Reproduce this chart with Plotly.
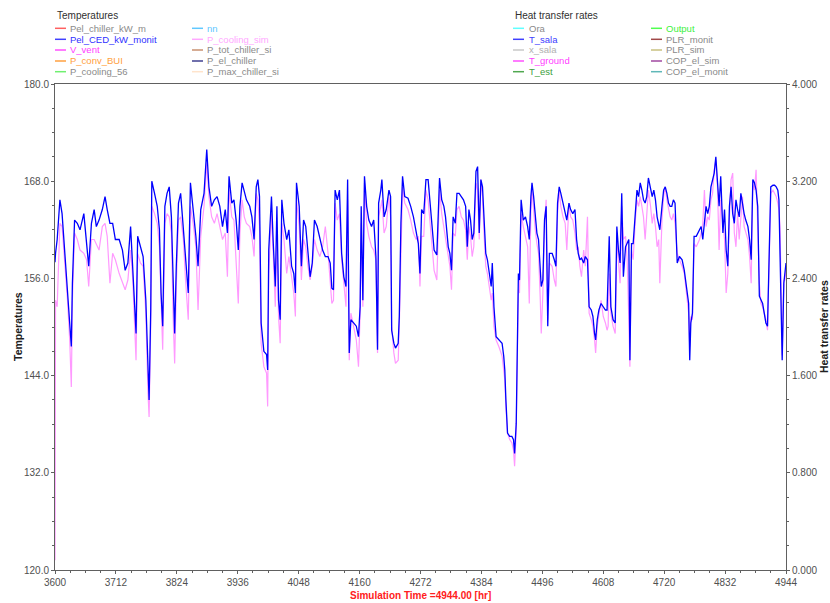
import plotly.graph_objects as go

# ---------------- data ----------------
hours_a = [3600, 3601, 3604, 3609, 3613, 3618, 3623, 3627, 3630, 3632,
           3636, 3641, 3646, 3653, 3658, 3662, 3667, 3672, 3676, 3681,
           3687, 3692, 3696, 3701, 3706, 3711, 3718, 3724, 3729, 3734,
           3739, 3743, 3746, 3749, 3752, 3757, 3762, 3767, 3771, 3773,
           3776, 3778, 3783, 3788, 3792, 3795, 3798, 3802, 3806, 3810,
           3814, 3817, 3820, 3823, 3827, 3831, 3836, 3840, 3845, 3849,
           3854, 3859, 3863, 3868, 3874, 3879, 3883, 3888, 3893, 3898,
           3903, 3908, 3913, 3917, 3920, 3925, 3929, 3933, 3937]
pel_ced_a = [158.0, 159.1, 160.8, 165.7, 164.0, 159.1, 154.2, 150.1, 147.6, 155.4,
             163.2, 162.8, 162.0, 164.0, 160.3, 157.5, 162.8, 164.5, 162.4, 163.2,
             164.5, 166.1, 164.5, 162.8, 162.8, 160.8, 160.8, 159.5, 157.0, 157.9,
             162.4, 157.0, 153.3, 149.2, 161.2, 159.9, 158.7, 153.3, 144.3, 141.0,
             152.1, 168.0, 166.5, 164.9, 162.0, 154.2, 150.1, 164.9, 166.5, 167.3,
             163.6, 154.6, 149.2, 157.5, 165.3, 166.5, 162.4, 158.3, 154.2, 167.8,
             164.9, 161.2, 157.5, 164.5, 166.5, 171.9, 167.3, 164.9, 165.7, 166.1,
             164.9, 162.4, 164.5, 161.6, 168.6, 165.3, 165.7, 163.2, 159.5]
p_cool_a = [121.2, 153.3, 152.5, 162.8, 162.4, 158.3, 153.3, 148.4, 142.6, 153.3,
            161.6, 160.8, 159.5, 159.1, 158.3, 155.0, 160.8, 160.8, 160.3, 159.5,
            162.4, 162.8, 161.2, 155.4, 159.1, 158.3, 156.6, 155.4, 154.6, 155.8,
            159.5, 155.8, 150.1, 145.9, 159.1, 157.9, 157.5, 151.7, 141.8, 138.9,
            150.1, 164.9, 164.0, 162.8, 159.9, 151.7, 147.2, 162.8, 164.0, 163.6,
            161.6, 151.7, 145.5, 155.0, 163.2, 163.6, 160.8, 155.8, 150.9, 164.9,
            162.8, 159.9, 152.1, 161.2, 164.9, 170.2, 166.1, 163.6, 162.8, 164.0,
            162.4, 160.8, 161.6, 156.2, 166.9, 163.6, 163.2, 158.7, 152.9]

hours_b = [3940, 3944, 3948, 3952, 3958, 3962, 3966, 3970, 3973, 3976,
           3979, 3984, 3989, 3991, 3993, 3998, 4001, 4005, 4008, 4011,
           4014, 4017, 4021, 4026, 4030, 4035, 4039, 4042, 4044, 4049,
           4053, 4057, 4061, 4065, 4069, 4073, 4077, 4082, 4087, 4092,
           4097, 4102, 4106, 4109, 4112, 4115, 4119, 4123, 4127, 4131,
           4135, 4138, 4141, 4144, 4149, 4154, 4158, 4161, 4163, 4166,
           4169, 4173, 4177, 4182, 4186, 4190, 4193, 4195, 4199, 4201,
           4205, 4209, 4214, 4217, 4219, 4223, 4226, 4231, 4233, 4236,
           4239, 4243, 4249, 4254, 4259, 4264, 4268, 4271, 4274]
pel_ced_b = [164.9, 167.8, 166.9, 165.7, 164.9, 163.6, 160.8, 167.3, 168.2, 166.1,
             150.5, 147.0, 146.6, 144.7, 159.5, 166.1, 160.8, 155.0, 164.9, 153.3,
             150.9, 165.7, 162.8, 160.8, 162.0, 157.5, 156.6, 154.2, 167.8, 164.9,
             157.5, 163.2, 162.4, 158.7, 156.2, 157.9, 163.2, 162.4, 160.8, 159.5,
             158.7, 158.7, 157.9, 154.8, 154.6, 166.9, 165.7, 166.9, 159.1, 156.2,
             155.0, 168.2, 146.8, 150.9, 150.5, 150.1, 148.8, 152.5, 164.9, 153.3,
             168.6, 164.9, 163.2, 162.4, 163.2, 158.7, 147.2, 165.3, 166.9, 168.2,
             163.6, 164.5, 166.9, 166.1, 149.6, 148.0, 147.4, 148.0, 151.3, 162.8,
             168.6, 166.1, 165.9, 164.9, 163.6, 162.0, 160.3, 156.6, 164.5]
p_cool_b = [161.6, 165.7, 163.6, 162.8, 162.4, 161.2, 158.7, 166.5, 165.7, 162.4,
            148.0, 145.1, 144.3, 140.2, 156.6, 164.0, 159.5, 152.5, 161.6, 151.3,
            148.0, 162.8, 160.8, 156.6, 158.7, 155.8, 154.2, 151.3, 165.7, 162.4,
            155.8, 160.8, 159.9, 157.5, 155.8, 157.5, 160.8, 159.5, 158.7, 159.9,
            162.4, 159.1, 155.8, 152.9, 153.3, 165.3, 163.2, 164.0, 158.3, 155.0,
            152.5, 165.7, 145.9, 151.7, 150.1, 148.4, 145.1, 151.7, 162.8, 152.5,
            167.8, 162.8, 161.2, 159.9, 159.5, 158.3, 146.8, 163.6, 164.9, 165.7,
            161.6, 162.4, 166.1, 163.6, 150.1, 146.8, 145.5, 145.9, 150.1, 160.8,
            167.3, 165.3, 164.5, 163.2, 161.6, 160.8, 161.2, 155.0, 161.2]

hours_c = [4278, 4282, 4286, 4290, 4294, 4297, 4302, 4305, 4307, 4311,
           4315, 4318, 4323, 4326, 4329, 4332, 4336, 4339, 4343, 4347,
           4351, 4355, 4358, 4361, 4364, 4367, 4370, 4374, 4377, 4380,
           4383, 4386, 4389, 4392, 4395, 4399, 4402, 4404, 4407, 4411,
           4416, 4422, 4425, 4427, 4429, 4432, 4436, 4440, 4443, 4445,
           4448, 4450, 4452, 4454, 4457, 4461, 4465, 4469, 4472, 4475,
           4477, 4480, 4483, 4486, 4489, 4492, 4494, 4497, 4500, 4503,
           4506, 4509, 4514, 4518, 4521, 4524, 4527, 4530, 4534, 4538,
           4541, 4545, 4548, 4552, 4556, 4559, 4562, 4565, 4568, 4572,
           4575, 4579, 4582, 4586, 4589, 4592, 4594, 4597, 4600, 4604,
           4608, 4612]
pel_ced_c = [164.0, 168.2, 168.2, 164.9, 162.0, 159.5, 158.9, 164.9, 168.4, 165.7,
             164.9, 163.6, 159.9, 159.1, 157.0, 163.6, 162.8, 166.5, 166.5, 166.1,
             165.7, 164.9, 159.9, 164.5, 163.2, 160.8, 161.6, 169.2, 169.8, 161.6,
             168.2, 167.3, 163.2, 159.1, 158.3, 156.6, 155.0, 157.9, 152.5, 148.8,
             148.4, 148.0, 146.4, 144.7, 141.0, 136.9, 136.5, 136.5, 136.1, 134.4,
             138.1, 150.1, 156.6, 155.8, 165.7, 163.2, 163.6, 162.4, 160.8, 166.1,
             167.8, 166.1, 163.2, 161.6, 160.8, 156.2, 155.0, 155.8, 163.2, 164.9,
             150.1, 159.1, 159.1, 158.3, 157.5, 165.3, 167.3, 166.5, 165.3, 164.5,
             163.2, 165.3, 164.5, 164.0, 164.5, 160.8, 159.1, 158.3, 158.5, 157.9,
             158.7, 158.3, 152.5, 152.1, 151.3, 149.2, 148.4, 150.9, 152.1, 152.9,
             152.5, 152.1]
p_cool_c = [161.2, 166.9, 165.7, 162.4, 159.5, 157.0, 155.8, 162.4, 166.9, 164.0,
            162.4, 161.2, 158.7, 157.5, 154.6, 161.6, 161.2, 164.5, 164.9, 163.6,
            163.2, 162.0, 158.3, 162.4, 161.2, 158.7, 159.9, 167.8, 166.9, 160.8,
            168.2, 166.1, 161.2, 157.5, 156.6, 155.0, 153.3, 154.2, 150.1, 148.4,
            147.6, 146.4, 144.3, 143.5, 140.2, 136.9, 136.1, 135.7, 134.8, 132.8,
            137.3, 148.4, 154.6, 154.2, 164.0, 162.4, 161.2, 159.9, 152.9, 164.5,
            166.9, 164.0, 162.0, 160.3, 159.1, 153.8, 149.2, 154.2, 162.8, 165.7,
            150.9, 157.9, 157.5, 155.8, 155.0, 164.0, 166.9, 164.9, 163.6, 162.8,
            159.5, 165.3, 163.6, 163.2, 161.6, 159.5, 159.9, 157.5, 156.2, 159.5,
            157.5, 163.6, 151.7, 150.9, 150.1, 148.4, 146.8, 150.1, 151.7, 153.3,
            151.3, 150.5]

hours_d = [4615, 4617, 4619, 4622, 4626, 4630, 4633, 4636, 4639, 4642,
           4645, 4649, 4652, 4655, 4657, 4660, 4663, 4667, 4670, 4673,
           4676, 4679, 4682, 4685, 4688, 4691, 4695, 4698, 4701, 4704,
           4707, 4710, 4712, 4716, 4719, 4722, 4725, 4728, 4731, 4734,
           4737, 4740, 4744, 4748, 4753, 4757, 4761, 4765, 4767, 4769,
           4772, 4775, 4779, 4782, 4785, 4788, 4791, 4794, 4797, 4800,
           4803, 4806, 4809, 4812, 4815, 4818, 4821, 4824, 4828, 4831,
           4834, 4837, 4840, 4843, 4846, 4849, 4852, 4855, 4858, 4861,
           4864, 4867, 4870, 4874, 4877, 4880, 4883, 4886, 4889, 4892,
           4895, 4898, 4901, 4904, 4907, 4910, 4913, 4916, 4920, 4923,
           4926, 4929, 4931, 4933, 4936, 4937, 4940, 4942, 4944]
pel_ced_d = [152.1, 155.8, 161.2, 152.5, 150.9, 150.5, 162.4, 159.5, 157.9, 166.5,
             156.2, 159.9, 160.3, 160.8, 145.9, 160.3, 160.3, 164.9, 166.9, 166.1,
             167.8, 166.9, 165.7, 165.3, 166.1, 168.4, 166.9, 166.1, 166.9, 165.7,
             163.6, 162.8, 162.0, 164.9, 166.9, 167.3, 166.5, 165.3, 164.9, 164.9,
             165.7, 165.3, 157.9, 158.7, 158.3, 157.0, 154.6, 152.9, 145.9, 150.5,
             151.7, 161.2, 161.2, 161.6, 162.0, 162.4, 160.8, 162.8, 164.9, 164.0,
             164.9, 167.3, 168.2, 169.0, 171.0, 168.2, 164.9, 168.6, 161.6, 164.5,
             159.5, 157.5, 164.9, 167.3, 164.0, 162.8, 165.7, 164.5, 163.6, 166.5,
             164.9, 164.0, 163.2, 162.4, 160.8, 158.3, 168.2, 167.8, 166.9, 164.9,
             153.8, 153.3, 152.9, 151.7, 150.5, 150.1, 161.2, 167.3, 167.5, 167.5,
             167.3, 166.9, 165.7, 158.7, 151.7, 145.9, 155.4, 156.6, 157.9]
p_cool_d = [149.6, 150.1, 156.6, 151.7, 150.1, 149.2, 160.8, 157.5, 155.4, 164.9,
            160.8, 161.2, 158.3, 150.9, 145.1, 159.5, 158.3, 163.2, 165.7, 164.9,
            166.1, 164.9, 163.6, 160.8, 164.0, 166.9, 164.9, 162.8, 164.0, 162.4,
            159.9, 160.8, 155.4, 163.2, 166.1, 167.3, 165.7, 164.5, 163.6, 163.2,
            164.0, 162.8, 159.1, 158.3, 157.5, 156.6, 153.8, 151.7, 147.6, 151.3,
            150.9, 160.3, 159.9, 160.3, 160.8, 161.6, 162.8, 166.9, 162.4, 163.6,
            163.2, 165.7, 166.5, 169.4, 170.6, 167.3, 159.5, 165.7, 162.4, 160.8,
            154.2, 156.6, 163.6, 168.2, 169.0, 161.6, 159.9, 164.0, 160.8, 163.6,
            166.1, 162.4, 161.6, 160.8, 158.7, 155.4, 167.8, 166.9, 169.4, 163.6,
            155.4, 152.9, 152.5, 151.7, 150.9, 149.6, 160.3, 166.5, 166.9, 166.5,
            166.1, 165.3, 164.5, 162.4, 152.5, 146.5, 155.8, 155.8, 157.0]

x_ticks = [3600, 3712, 3824, 3936, 4048, 4160, 4272, 4384, 4496, 4608, 4720, 4832, 4944]
left_ticks = [120.0, 132.0, 144.0, 156.0, 168.0, 180.0]
right_ticks = [0.0, 0.8, 1.6, 2.4, 3.2, 4.0]

hours = hours_a + hours_b + hours_c + hours_d
pel_ced = pel_ced_a + pel_ced_b + pel_ced_c + pel_ced_d
p_cool = p_cool_a + p_cool_b + p_cool_c + p_cool_d

# ---------------- figure ----------------
W, H = 830, 603
L, R, T, B = 55, 44, 84, 33
PW, PH = W - L - R, H - T - B
FONT = "Liberation Sans, Arial, sans-serif"
AX = "#606060"
TICKFONT = dict(family=FONT, size=10, color="#505050")


def px(xp):
    return (xp - L) / PW


def py(yp):
    return (H - B - yp) / PH


fig = go.Figure()
fig.add_trace(go.Scatter(x=hours, y=p_cool, mode="lines", name="P_cooling_sim",
                         line=dict(color="#FF99FF", width=1.2)))
fig.add_trace(go.Scatter(x=hours, y=pel_ced, mode="lines", name="Pel_CED_kW_monit",
                         line=dict(color="#0000FF", width=1.3)))
fig.add_trace(go.Scatter(x=[None], y=[None], yaxis="y2", mode="lines", showlegend=False))

fig.update_layout(
    width=W, height=H,
    margin=dict(l=L, r=R, t=T, b=B, pad=0),
    paper_bgcolor="white", plot_bgcolor="white",
    showlegend=False,
    font=dict(family=FONT, size=10, color="#505050"),
    xaxis=dict(range=[3600, 4944], tickmode="array", tickvals=x_ticks,
               ticktext=[str(v) for v in x_ticks], tickfont=TICKFONT,
               ticks="outside", ticklen=3, tickcolor=AX,
               showline=True, linecolor=AX, linewidth=1, mirror=True,
               showgrid=False, zeroline=False,
               minor=dict(dtick=28, tick0=3600, ticks="outside", ticklen=2, tickcolor=AX)),
    yaxis=dict(range=[120, 180], tickmode="array", tickvals=left_ticks,
               ticktext=[f"{v:.1f}" for v in left_ticks], tickfont=TICKFONT,
               ticks="outside", ticklen=3, tickcolor=AX,
               showline=True, linecolor=AX, linewidth=1,
               showgrid=False, zeroline=False,
               minor=dict(dtick=3, tick0=120, ticks="outside", ticklen=2, tickcolor=AX)),
    yaxis2=dict(range=[0, 4], overlaying="y", side="right", tickmode="array",
                tickvals=right_ticks, ticktext=[f"{v:.3f}" for v in right_ticks],
                tickfont=TICKFONT,
                ticks="outside", ticklen=3, tickcolor=AX,
                showline=True, linecolor=AX, linewidth=1,
                showgrid=False, zeroline=False,
                minor=dict(dtick=0.2, tick0=0, ticks="outside", ticklen=2, tickcolor=AX)),
)

ann = []
# axis titles
ann.append(dict(text="<b>Simulation Time =4944.00 [hr]</b>", x=0.5, y=py(595),
                xref="paper", yref="paper", showarrow=False, xanchor="center", yanchor="middle",
                font=dict(family=FONT, size=10, color="#FF2020")))
ann.append(dict(text="<b>Temperatures</b>", x=px(18), y=0.5, textangle=-90,
                xref="paper", yref="paper", showarrow=False, xanchor="center", yanchor="middle",
                font=dict(family=FONT, size=10.5, color="#202020")))
ann.append(dict(text="<b>Heat transfer rates</b>", x=px(824), y=0.5, textangle=-90,
                xref="paper", yref="paper", showarrow=False, xanchor="center", yanchor="middle",
                font=dict(family=FONT, size=10.5, color="#202020")))

GREY = "#8a8a8a"
legend_groups = [
    ("Temperatures", 55, [
        (55, 68, [("Pel_chiller_kW_m", "#FF6060", GREY),
                  ("Pel_CED_kW_monit", "#4040FF", "#3030FF"),
                  ("V_vent", "#FF50FF", "#FF40FF"),
                  ("P_conv_BUI", "#FFA040", "#FFA040"),
                  ("P_cooling_56", "#70F070", GREY)]),
        (192, 205, [("nn", "#60C8FF", "#60C8FF"),
                    ("P_cooling_sim", "#FFA8FF", "#FFA8FF"),
                    ("P_tot_chiller_si", "#C89070", GREY),
                    ("P_el_chiller", "#404090", GREY),
                    ("P_max_chiller_si", "#FFE4CC", GREY)]),
    ]),
    ("Heat transfer rates", 513, [
        (513, 527, [("Ora", "#60FFFF", GREY),
                    ("T_sala", "#4040FF", "#4040FF"),
                    ("x_sala", "#C8C8C8", "#B0B0B0"),
                    ("T_ground", "#FF50FF", "#FF40FF"),
                    ("T_est", "#50A850", "#40A040")]),
        (651, 664, [("Output", "#50FF50", "#40F040"),
                    ("PLR_monit", "#A04848", GREY),
                    ("PLR_sim", "#C8C080", GREY),
                    ("COP_el_sim", "#A048A0", GREY),
                    ("COP_el_monit", "#60B8B8", GREY)]),
    ]),
]
row_y = [28.3, 39.3, 50.0, 61.0, 71.7]
shapes = []
for title, tx, cols in legend_groups:
    ann.append(dict(text=title, x=px(tx), y=py(15), xref="paper", yref="paper",
                    showarrow=False, xanchor="left", yanchor="middle",
                    font=dict(family=FONT, size=10, color="#303030")))
    for lx, txx, items in cols:
        for (name, lc, tc), yy in zip(items, row_y):
            shapes.append(dict(type="line", xref="paper", yref="paper",
                               x0=px(lx), x1=px(lx + 11), y0=py(yy), y1=py(yy),
                               line=dict(color=lc, width=1.5)))
            ann.append(dict(text=name, x=px(txx), y=py(yy), xref="paper", yref="paper",
                            showarrow=False, xanchor="left", yanchor="middle",
                            font=dict(family=FONT, size=9.5, color=tc)))

fig.update_layout(annotations=ann, shapes=shapes)
fig.write_html("out.html")
